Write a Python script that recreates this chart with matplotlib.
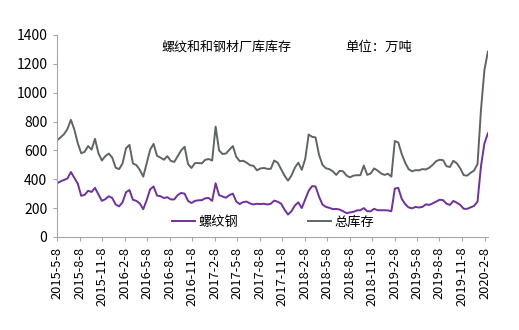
import numpy as np
import pandas as pd
import matplotlib.pyplot as plt

plt.rcParams['font.family'] = ['Noto Sans CJK SC', 'DejaVu Sans']

# biweekly readings, 2015-05-08 .. 2020-02-21
dates = pd.date_range('2015-05-08', periods=126, freq='14D')

total_stock = [
    670, 690, 712, 748, 812, 745, 650, 580, 590, 630,
    605, 680, 580, 530, 560, 578, 550, 480, 470, 510,
    615, 638, 510, 498, 465, 418, 510, 605, 645, 562,
    550, 535, 560, 527, 520, 560, 600, 625, 505, 478,
    512, 512, 510, 535, 540, 530, 765, 600, 575, 578,
    605, 630, 555, 525, 528, 515, 497, 493, 462, 475,
    478, 472, 472, 530, 515, 470, 425, 390, 425, 480,
    515, 465, 540, 710, 694, 690, 570, 500, 476, 470,
    455, 430, 458, 455, 425, 413, 425, 428, 428, 495,
    430, 440, 475, 460, 440, 430, 438, 418, 665, 655,
    575, 515, 470, 455, 463, 462, 470, 468, 480, 500,
    525, 535, 532, 490, 485, 528, 510, 475, 428, 425,
    445, 460, 505, 880, 1157, 1284,
]

rebar = [
    372, 385, 395, 405, 450, 410, 370, 285, 292, 320,
    312, 340, 295, 250, 262, 282, 270, 225, 212, 240,
    310, 325, 258, 250, 232, 192, 255, 330, 350, 287,
    282, 270, 275, 260, 260, 290, 305, 300, 250, 235,
    250, 254, 255, 268, 270, 250, 372, 290, 280, 272,
    290, 300, 245, 228, 242, 245, 232, 225, 230, 228,
    230, 225, 230, 252, 244, 231, 190, 155, 178, 218,
    240, 200, 260, 320, 352, 350, 280, 225, 208, 202,
    193, 194, 190, 178, 165, 170, 174, 184, 185, 200,
    178, 178, 195, 185, 185, 185, 184, 178, 335, 340,
    265, 228, 205, 198, 208, 204, 208, 226, 222, 233,
    245, 258, 255, 230, 222, 250, 237, 222, 195, 195,
    205, 215, 245, 490, 648, 718,
]

tick_dates = pd.date_range('2015-05-01', '2020-02-01', freq='3MS') + pd.Timedelta(days=7)
tick_labels = [f'{d.year}-{d.month}-{d.day}' for d in tick_dates]

fig = plt.figure(figsize=(5.19, 3.30), dpi=100)
ax = fig.add_axes([0.110, 0.282, 0.830, 0.612])

ax.plot(dates, rebar, color='#7030A0', lw=1.4, label='螺纹钢')
ax.plot(dates, total_stock, color='#5E6662', lw=1.4, label='总库存')

ax.set_ylim(0, 1400)
ax.set_yticks(np.arange(0, 1401, 200))
ax.set_xlim(dates[0], dates[-1])
ax.set_xticks(tick_dates)
ax.set_xticklabels(tick_labels, rotation=90)

for s in ['top', 'right']:
    ax.spines[s].set_visible(False)
for s in ['left', 'bottom']:
    ax.spines[s].set_color('#A6A6A6')
ax.tick_params(axis='both', color='#A6A6A6', length=3, pad=4)
ax.tick_params(axis='x', labelsize=9.3)
ax.tick_params(axis='y', labelsize=10)

ax.text(0.392, 0.94, '螺纹和和钢材厂库库存', transform=ax.transAxes,
        ha='center', va='center', fontsize=9.4)
ax.text(0.747, 0.94, '单位：万吨', transform=ax.transAxes,
        ha='center', va='center', fontsize=9.6)

ax.legend(loc='lower left', bbox_to_anchor=(0.24, -0.02), ncol=2, frameon=False,
          fontsize=9.5, handlelength=1.7, handletextpad=0.3, columnspacing=5.3)

fig.savefig('out.png', dpi=100)
